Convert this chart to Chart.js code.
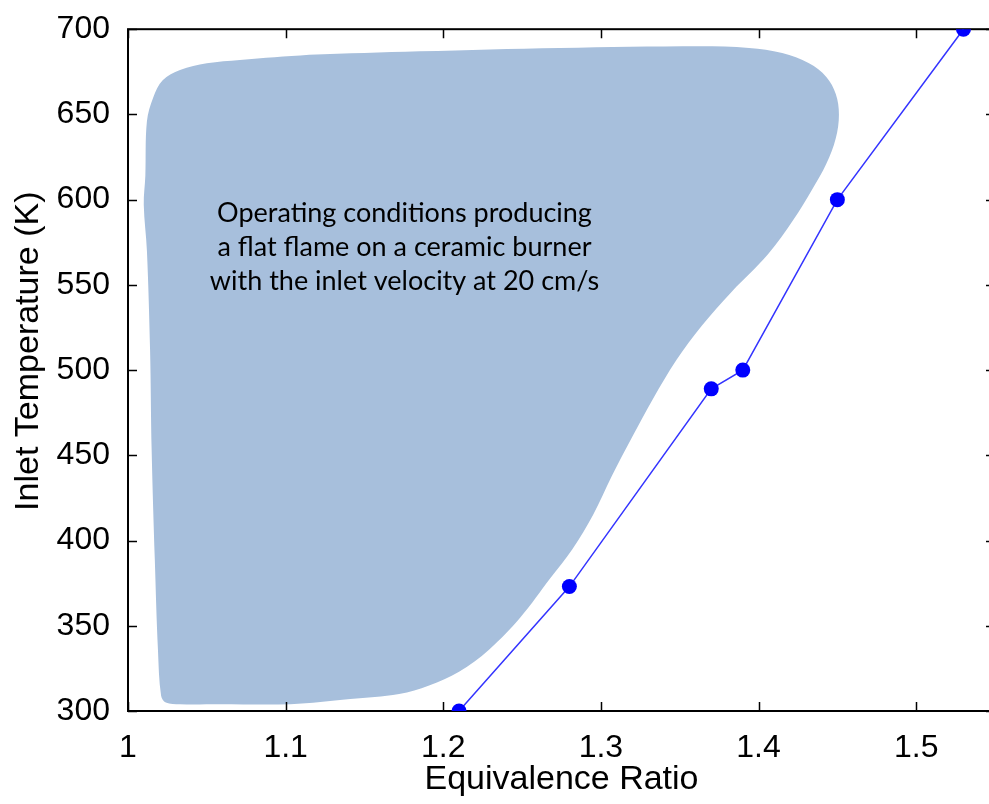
<!DOCTYPE html>
<html>
<head>
<meta charset="utf-8">
<script src="https://cdn.jsdelivr.net/npm/chart.js@4"></script>
<style>
  html, body { margin: 0; padding: 0; background: #fff; overflow: hidden; }
  #wrap { width: 1010px; height: 804px; }
</style>
</head>
<body>
<div id="wrap"><canvas id="chart" width="1010" height="804"></canvas></div>
<script>
// measured series (equivalence ratio vs inlet temperature)
const phi = [1.21, 1.28, 1.37, 1.39, 1.45, 1.53];
const inletT = [300, 373, 489, 500, 600, 700];

// outline of the flat-flame operating region, traced clockwise from the top edge
const regionPhi = [1.115, 1.185, 1.274, 1.363, 1.394, 1.415, 1.432, 1.443, 1.449, 1.451,
    1.449, 1.443, 1.434, 1.422, 1.406, 1.383, 1.364, 1.348, 1.333, 1.320,
    1.307, 1.295, 1.282, 1.268, 1.249, 1.229, 1.210, 1.191, 1.172, 1.141,
    1.103, 1.058, 1.033, 1.024, 1.021, 1.019, 1.017, 1.015, 1.014, 1.012,
    1.010, 1.011, 1.012, 1.016, 1.022, 1.033, 1.050, 1.071, 1.115];
const regionT = [685, 687, 689, 690, 689, 686, 680, 672, 662, 650,
    636, 621, 606, 588, 568, 546, 526, 506, 483, 461,
    438, 415, 395, 378, 355, 336, 323, 315, 310, 307,
    304, 304, 304, 305, 309, 336, 389, 453, 512, 570,
    597, 614, 646, 660, 670, 676, 680, 682, 685];

const xTicks = [1, 1.1, 1.2, 1.3, 1.4, 1.5];
const yTicks = [300, 350, 400, 450, 500, 550, 600, 650, 700];

const noteLines = [
    'Operating conditions producing',
    'a flat flame on a ceramic burner',
    'with the inlet velocity at 20 cm/s'
];

const axisFont = 'Liberation Sans, Arial, sans-serif';

// box + inward tick marks, drawn after the shaded region and before the series
const frame = {
    id: 'frame',
    afterDatasetDraw(chart, args) {
        if (args.index !== 1) return;
        const { ctx, chartArea: a, scales } = chart;
        ctx.save();
        ctx.strokeStyle = '#000';
        ctx.lineWidth = 2;
        ctx.strokeRect(a.left, a.top, a.right - a.left, a.bottom - a.top);
        ctx.beginPath();
        scales.x.ticks.forEach(t => {
            const px = Math.round(scales.x.getPixelForValue(t.value)) + 0.5;
            ctx.moveTo(px, a.bottom); ctx.lineTo(px, a.bottom - 9);
            ctx.moveTo(px, a.top); ctx.lineTo(px, a.top + 9);
        });
        scales.y.ticks.forEach(t => {
            const py = Math.round(scales.y.getPixelForValue(t.value)) + 0.5;
            ctx.moveTo(a.left, py); ctx.lineTo(a.left + 9, py);
            ctx.moveTo(a.right, py); ctx.lineTo(a.right - 9, py);
        });
        ctx.lineWidth = 1.5;
        ctx.stroke();

        // annotation inside the region
        ctx.fillStyle = '#000';
        ctx.font = '27px Lato, "Open Sans", sans-serif';
        ctx.textAlign = 'center';
        ctx.textBaseline = 'middle';
        const cx = scales.x.getPixelForValue(1.1754);
        const cy = scales.y.getPixelForValue(592);
        noteLines.forEach((line, i) => ctx.fillText(line, cx, cy + i * 34));
        ctx.restore();
    }
};

new Chart(document.getElementById('chart'), {
    type: 'line',
    data: {
        datasets: [
            {
                label: 'measured',
                data: phi.map((x, i) => ({ x: x, y: inletT[i] })),
                borderColor: 'rgba(30, 30, 255, 0.9)',
                borderWidth: 1.5,
                pointRadius: 7.5,
                pointHoverRadius: 7.5,
                pointBackgroundColor: '#0000ff',
                pointBorderWidth: 0,
                tension: 0,
                fill: false
            },
            {
                label: 'region',
                data: regionPhi.map((x, i) => ({ x: x, y: regionT[i] })),
                borderWidth: 0,
                borderColor: 'rgba(0,0,0,0)',
                backgroundColor: '#a7bfdc',
                pointRadius: 0,
                tension: 0.35,
                fill: 'shape'
            }
        ]
    },
    options: {
        responsive: false,
        animation: false,
        layout: { padding: { top: 29, right: 15, left: 0, bottom: 0 } },
        plugins: {
            legend: { display: false },
            tooltip: { enabled: false }
        },
        scales: {
            x: {
                type: 'linear',
                min: 1,
                max: 1.55,
                afterBuildTicks: s => { s.ticks = xTicks.map(v => ({ value: v })); },
                afterFit: s => { s.height = 93; },
                grid: { display: false },
                border: { display: false },
                ticks: {
                    color: '#000',
                    padding: 10,
                    font: { family: axisFont, size: 32 },
                    callback: v => String(+v.toFixed(2))
                },
                title: {
                    display: true,
                    text: 'Equivalence Ratio',
                    color: '#000',
                    font: { family: axisFont, size: 34 },
                    padding: { top: 0, bottom: 4 }
                }
            },
            y: {
                type: 'linear',
                min: 300,
                max: 700,
                afterBuildTicks: s => { s.ticks = yTicks.map(v => ({ value: v })); },
                afterFit: s => { s.width = 128; },
                grid: { display: false },
                border: { display: false },
                ticks: {
                    color: '#000',
                    padding: 10,
                    font: { family: axisFont, size: 32 }
                },
                title: {
                    display: true,
                    text: '\u00a0\u00a0\u00a0\u00a0Inlet Temperature (K)',
                    color: '#000',
                    font: { family: axisFont, size: 34 },
                    padding: { top: 8, bottom: 0 }
                }
            }
        }
    },
    plugins: [frame]
});
</script>
</body>
</html>
